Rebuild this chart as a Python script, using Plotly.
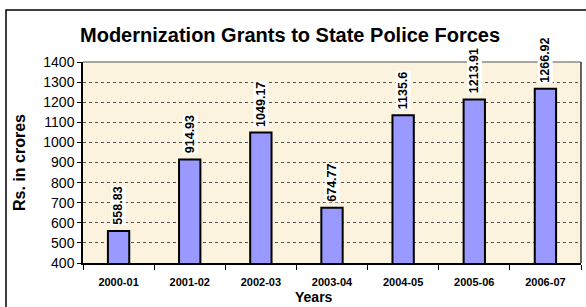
import plotly.graph_objects as go

years = ["2000-01", "2001-02", "2002-03", "2003-04", "2004-05", "2005-06", "2006-07"]
grants = [558.83, 914.93, 1049.17, 674.77, 1135.6, 1213.91, 1266.92]
labels = ["558.83", "914.93", "1049.17", "674.77", "1135.6", "1213.91", "1266.92"]
y_ticks = list(range(400, 1401, 100))

FONT = "Liberation Sans, Arial, sans-serif"

fig = go.Figure()
fig.add_trace(go.Bar(
    x=years, y=grants, width=0.3,
    marker=dict(color="#9999FF", line=dict(color="black", width=2)),
    hoverinfo="x+y",
))

for x, v, t in zip(years, grants, labels):
    fig.add_annotation(
        x=x, y=v, text="<b>%s</b>" % t, textangle=-90, showarrow=False,
        xanchor="center", yanchor="bottom", yshift=5,
        bgcolor="white", borderpad=0,
        font=dict(family=FONT, size=12.5, color="black"),
    )

# x axis title
fig.add_annotation(xref="paper", yref="paper", x=0.464, y=-0.169,
                   xanchor="center", yanchor="middle", showarrow=False,
                   text="<b>Years</b>", font=dict(family=FONT, size=14, color="black"))

# outer chart border
fig.add_shape(type="rect", xref="paper", yref="paper",
              x0=-0.1546, x1=1.05, y0=-0.6, y1=1.2587,
              line=dict(color="black", width=1.5), layer="below")

fig.update_layout(
    width=586, height=307,
    margin=dict(l=83, r=5, t=62, b=44),
    paper_bgcolor="white",
    plot_bgcolor="#FCF3DF",
    showlegend=False,
    title=dict(text="<b>Modernization Grants to State Police Forces</b>",
               x=0.495, xanchor="center", y=0.886, yanchor="middle",
               font=dict(family=FONT, size=20, color="black")),
    font=dict(family=FONT, color="black"),
)

fig.update_xaxes(
    type="category", tickson="boundaries", ticks="outside", ticklen=5,
    tickcolor="black", tickwidth=1, automargin=False,
    showline=True, linecolor="black", linewidth=1.5, mirror=False,
    showgrid=False, ticklabelstandoff=8,
    tickfont=dict(family=FONT, size=11, color="black"),
    tickprefix="<b>", ticksuffix="</b>",
)
fig.update_yaxes(
    range=[400, 1400], tickvals=y_ticks, ticks="outside", ticklen=4,
    tickcolor="black", tickwidth=1, automargin=False,
    showline=True, linecolor="black", linewidth=1.5,
    showgrid=True, gridcolor="#555555", griddash="dot", gridwidth=1,
    tickfont=dict(family=FONT, size=14, color="black"),
    tickprefix="<b>", ticksuffix="</b>",
    title=dict(text="<b>Rs. in crores</b>", font=dict(family=FONT, size=16, color="black"), standoff=14),
)

# right/top plot border
fig.add_shape(type="line", xref="paper", yref="paper", x0=1, x1=1, y0=0, y1=1,
              line=dict(color="black", width=1.2))
fig.add_shape(type="line", xref="paper", yref="paper", x0=0, x1=1, y0=1, y1=1,
              line=dict(color="#555555", width=1.2))

fig.write_html("out.html", config={"displayModeBar": False},
               post_script="document.body.style.margin='0';")
